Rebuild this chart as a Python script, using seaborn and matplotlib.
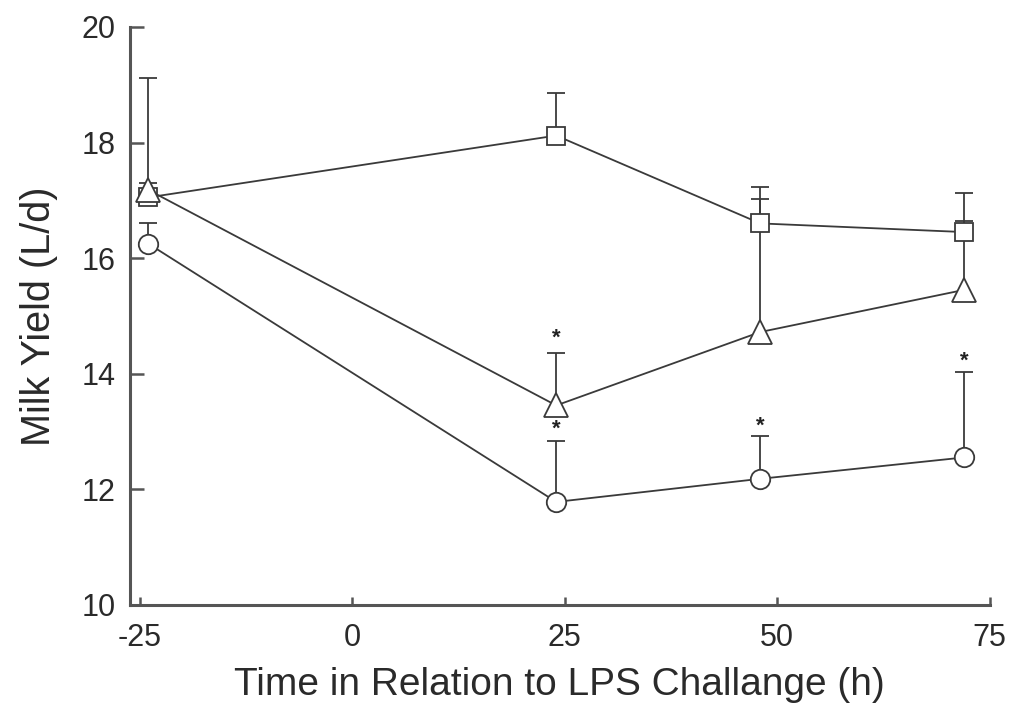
import matplotlib
matplotlib.use("Agg")
import matplotlib.pyplot as plt
import seaborn as sns
import pandas as pd
import numpy as np

# ---- data ----
time_h = [-24, 24, 48, 72]
square_mean = [17.05, 18.12, 16.60, 16.45]
square_top = [17.30, 18.86, 17.23, 17.13]
triangle_mean = [17.18, 13.45, 14.72, 15.45]
triangle_top = [19.12, 14.35, 17.02, 16.64]
circle_mean = [16.25, 11.78, 12.18, 12.55]
circle_top = [16.60, 12.83, 12.92, 14.02]
star_x = [24, 24, 48, 72]
star_y = [14.62, 13.04, 13.09, 14.22]
x_ticks = [-25, 0, 25, 50, 75]
x_tick_labels = ["-25", "0", "25", "50", "75"]
y_ticks = [10, 12, 14, 16, 18, 20]

sns.set_style("ticks")
plt.rcParams['font.family'] = ['Liberation Sans', 'DejaVu Sans']

fig = plt.figure(figsize=(10.12, 7.09), dpi=100)
ax = fig.add_axes([0.128, 0.147, 0.850, 0.815])

line_col = "#3a3a3a"
text_col = "#2a2a2a"

series = [
    ("square", square_mean, square_top, "s", 12.5),
    ("triangle", triangle_mean, triangle_top, "^", 17),
    ("circle", circle_mean, circle_top, "o", 14),
]

for name, mean, top, mk, ms in series:
    mean = np.array(mean)
    top = np.array(top)
    # upper error bars
    ax.vlines(time_h, mean, top, color=line_col, lw=1.3, zorder=2)
    ax.plot(time_h, top, ls="none", marker="_", ms=13, mew=1.3, color=line_col, zorder=2)
    df = pd.DataFrame({"t": time_h, "y": mean})
    sns.lineplot(data=df, x="t", y="y", ax=ax, color=line_col, lw=1.3,
                 marker=mk, markersize=ms, markerfacecolor="white",
                 markeredgecolor=line_col, markeredgewidth=1.3, zorder=3)

for sx, sy in zip(star_x, star_y):
    ax.text(sx, sy, "*", ha="center", va="center", fontsize=16, color="#222222",
            fontweight="bold")

ax.set_xlim(-26.2, 75)
ax.set_ylim(10, 20)
ax.set_xticks(x_ticks)
ax.set_xticklabels(x_tick_labels)
ax.set_yticks(y_ticks)
ax.tick_params(direction="in", width=1.8, color="#555555",
               labelsize=22, labelcolor=text_col)
ax.tick_params(axis="x", length=6, pad=13)
ax.tick_params(axis="y", length=10, pad=10)
for s in ["top", "right"]:
    ax.spines[s].set_visible(False)
for s in ["left", "bottom"]:
    ax.spines[s].set_color("#555555")
    ax.spines[s].set_linewidth(2.2)

ax.set_xlabel("Time in Relation to LPS Challange (h)", fontsize=28, color=text_col, labelpad=10)
ax.set_ylabel("Milk Yield (L/d)", fontsize=28.5, color=text_col, labelpad=17)

fig.savefig("out.png", dpi=100, facecolor="white")
